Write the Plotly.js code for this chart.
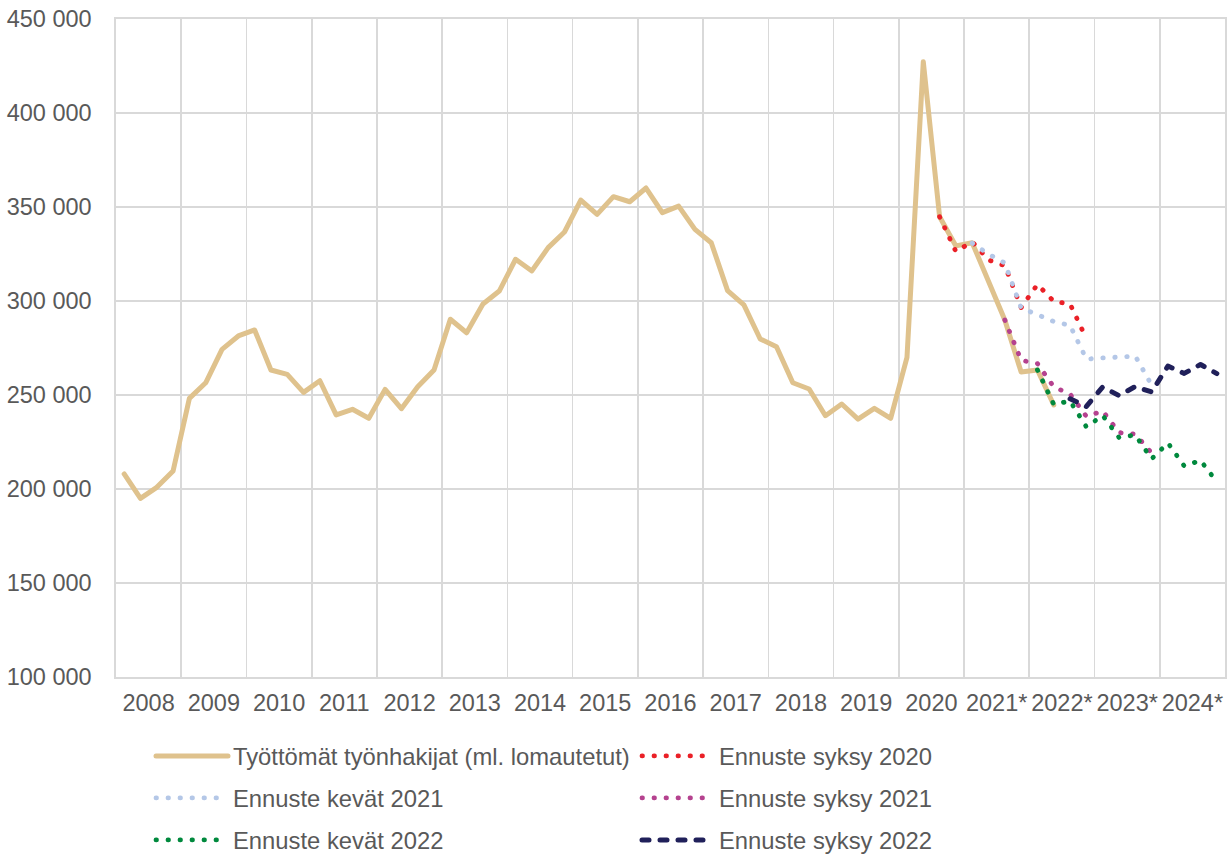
<!DOCTYPE html>
<html>
<head>
<meta charset="utf-8">
<script src="https://cdn.plot.ly/plotly-3.0.1.min.js"></script>
<style>
  html, body { margin: 0; padding: 0; background: #ffffff; }
  #chart { width: 1228px; height: 855px; }
</style>
</head>
<body>
<div id="chart"></div>
<script>
// ---- Data ----
const years = [2008, 2009, 2010, 2011, 2012, 2013, 2014, 2015, 2016, 2017, 2018, 2019, 2020, 2021, 2022, 2023, 2024];
const yearLabels = ['2008', '2009', '2010', '2011', '2012', '2013', '2014', '2015', '2016', '2017', '2018', '2019', '2020', '2021*', '2022*', '2023*', '2024*'];

// Quarterly categories
const quarters = [];
years.forEach(y => { for (let q = 1; q <= 4; q++) quarters.push(y + ' Q' + q); });

// Työttömät työnhakijat (ml. lomautetut), from 2008 Q1
const actualStart = '2008 Q1';
const actual = [
  208000, 195000, 200900, 209600,
  248200, 256500, 274300, 281400,
  284600, 263300, 261000, 251400,
  257600, 239400, 242400, 237600,
  253000, 242700, 254400, 263300,
  290300, 283100, 298400, 305300,
  322200, 316000, 328400, 336700,
  353700, 346100, 355500, 352800,
  360100, 347000, 350500, 338100,
  331000, 305500, 297900, 279800,
  275700, 256500, 253200, 239000,
  245200, 237200, 242900, 237600,
  270000, 427300, 344800, 329300,
  331000, 309800, 289900, 262200,
  263300, 244700
];

// Ennuste syksy 2020, from 2020 Q3
const syksy2020Start = '2020 Q3';
const syksy2020 = [344800, 326300, 331500, 321800, 318800, 296500, 308800, 299800, 298400, 280000];

// Ennuste kevät 2021, from 2021 Q1
const kevat2021Start = '2021 Q1';
const kevat2021 = [330800, 324900, 320200, 296300, 292700, 289100, 287000, 269100, 269700, 270400, 270700, 255300];

// Ennuste syksy 2021, from 2021 Q3
const syksy2021Start = '2021 Q3';
const syksy2021 = [289900, 268500, 266700, 254300, 250500, 238600, 241500, 230000, 229200, 219100];

// Ennuste kevät 2022, from 2022 Q1
const kevat2022Start = '2022 Q1';
const kevat2022 = [263300, 245000, 246800, 233000, 239100, 227400, 228700, 216000, 224500, 212200, 215200, 203700];

// Ennuste syksy 2022, from 2022 Q3
const syksy2022Start = '2022 Q3';
const syksy2022 = [248000, 243900, 254300, 249700, 254500, 251600, 265400, 261500, 266200, 261400];

const seriesNames = [
  'Työttömät työnhakijat (ml. lomautetut)',
  'Ennuste syksy 2020',
  'Ennuste kevät 2021',
  'Ennuste syksy 2021',
  'Ennuste kevät 2022',
  'Ennuste syksy 2022'
];

// ---- Helpers ----
// position of a quarter category on the continuous year axis (middle of the quarter)
function qx(label) {
  const parts = label.split(' Q');
  return Number(parts[0]) + (Number(parts[1]) - 0.5) / 4;
}
function xsFrom(startLabel, n) {
  const i0 = quarters.indexOf(startLabel);
  return quarters.slice(i0, i0 + n).map(qx);
}

const FONT = '"Liberation Sans", Arial, sans-serif';
const TXT = '#595959';
const GRID = '#D9D9D9';

function tr(name, start, vals, color, width, dash, legendId) {
  return {
    type: 'scatter', mode: 'lines', name: name,
    x: xsFrom(start, vals.length), y: vals,
    line: { color: color, width: width, dash: dash, shape: 'linear' },
    legend: legendId,
    hoverinfo: 'skip'
  };
}

const DOT = '0.5px,11.5px';
const traces = [
  tr(seriesNames[0], actualStart, actual, '#DFC28D', 5, 'solid', 'legend'),
  tr(seriesNames[1], syksy2020Start, syksy2020, '#EA2027', 4.8, DOT, 'legend'),
  tr(seriesNames[2], kevat2021Start, kevat2021, '#B4C7E7', 4.8, DOT, 'legend2'),
  tr(seriesNames[3], syksy2021Start, syksy2021, '#B5428F', 4.8, DOT, 'legend2'),
  tr(seriesNames[4], kevat2022Start, kevat2022, '#00893D', 4.8, DOT, 'legend3'),
  tr(seriesNames[5], syksy2022Start, syksy2022, '#20205A', 5, '7px,11px', 'legend3')
];

function legendRow(yTop) {
  return {
    orientation: 'h',
    xref: 'container', yref: 'container',
    x: 151 / 1228, y: 1 - yTop / 855,
    xanchor: 'left', yanchor: 'top',
    entrywidth: 399, entrywidthmode: 'pixels',
    itemwidth: 72,
    traceorder: 'normal',
    bgcolor: 'rgba(0,0,0,0)',
    font: { family: FONT, size: 23.8, color: TXT }
  };
}

const layout = {
  width: 1228, height: 855,
  paper_bgcolor: '#ffffff', plot_bgcolor: '#ffffff',
  margin: { l: 116, r: 3, t: 19, b: 178, pad: 0 },
  separators: ', ',
  font: { family: FONT, size: 23.5, color: TXT },
  showlegend: true,
  xaxis: {
    range: [2008, 2025],
    tickmode: 'array',
    tickvals: years.map(y => y + 0.5),
    ticktext: yearLabels,
    showgrid: false, zeroline: false,
    showline: true, linecolor: GRID, linewidth: 1.6, mirror: true,
    ticks: '', ticklabelstandoff: 4,
    tickfont: { family: FONT, size: 23.5, color: TXT },
    minor: {
      tickmode: 'array',
      tickvals: years.concat([2025]),
      showgrid: true, gridcolor: GRID, gridwidth: 1.6, ticks: ''
    },
    fixedrange: true
  },
  yaxis: {
    range: [100000, 450000],
    tickmode: 'linear', tick0: 100000, dtick: 50000,
    tickformat: ',d',
    showgrid: true, gridcolor: GRID, gridwidth: 1.6,
    zeroline: false,
    showline: true, linecolor: GRID, linewidth: 1.6, mirror: true,
    ticks: '', ticklabelstandoff: 18,
    tickfont: { family: FONT, size: 23.5, color: TXT },
    fixedrange: true
  },
  legend: legendRow(734),
  legend2: legendRow(776),
  legend3: legendRow(818)
};

Plotly.newPlot('chart', traces, layout, { displayModeBar: false, staticPlot: true }).then(gd => {
  // round line caps so the dotted styles draw round dots, as in the reference
  gd.querySelectorAll('path.js-line').forEach(p => {
    p.style.strokeLinecap = 'round';
    p.style.strokeLinejoin = 'round';
  });
});
</script>
</body>
</html>
